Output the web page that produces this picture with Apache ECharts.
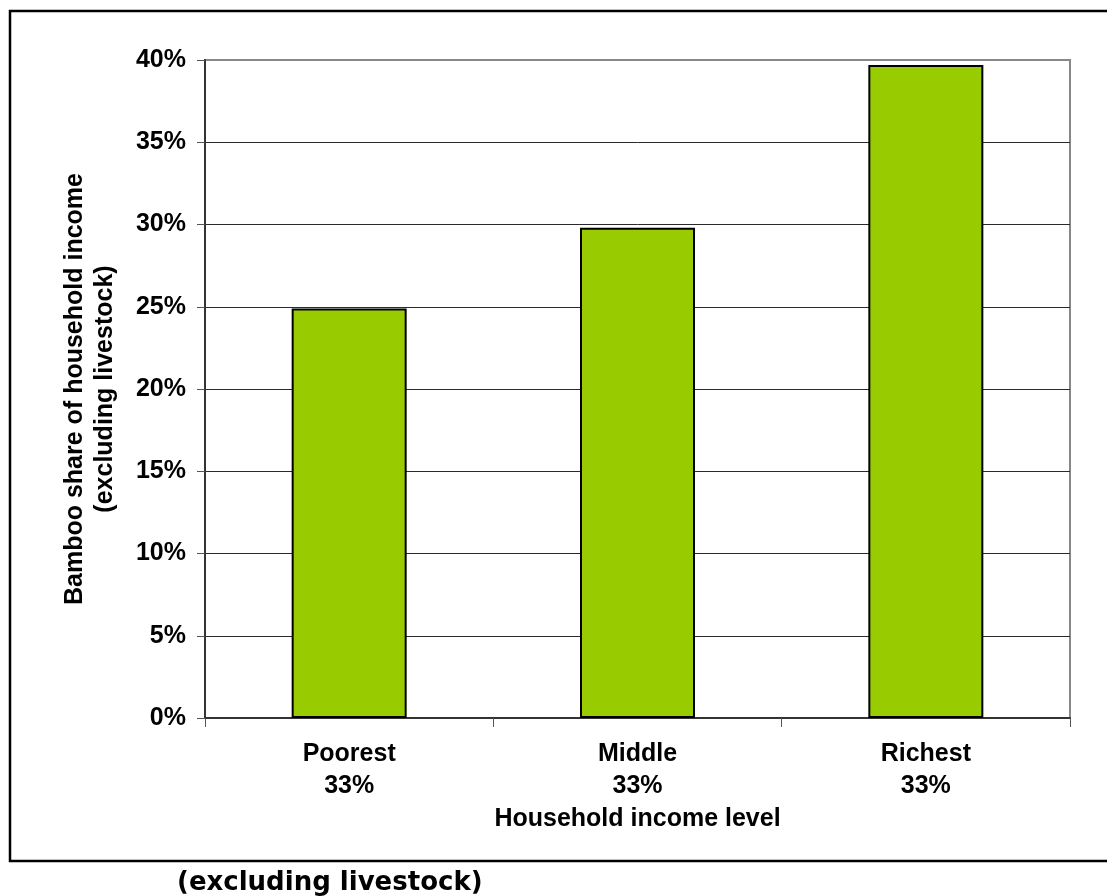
<!DOCTYPE html>
<html>
<head>
<meta charset="utf-8">
<script src="https://cdn.jsdelivr.net/npm/echarts@6/dist/echarts.min.js"></script>
<style>
  html, body { margin: 0; padding: 0; background: #fff; }
  #chart { width: 1107px; height: 896px; }
</style>
</head>
<body>
<div id="chart"></div>
<script>
// 类目与数值（百分比）
const categories = ['Poorest', 'Middle', 'Richest']
const groupShares = ['33%', '33%', '33%']
const bambooShare = [24.9, 29.8, 39.7]
const yTicks = [0, 5, 10, 15, 20, 25, 30, 35, 40]

const font = 'Liberation Sans, Arial, sans-serif'

const myChart = echarts.init(document.getElementById('chart'), null, { renderer: 'canvas' })

// 网格线颜色：最上面一条与边框同色（灰色）
const gridColors = yTicks.map((t, i) => (i === yTicks.length - 1 ? '#888' : '#2a2a2a'))

myChart.setOption({
  animation: false,
  backgroundColor: '#fff',
  grid: {
    left: 205,
    top: 60,
    right: 37,
    bottom: 178,
    show: true,
    borderColor: '#888',
    borderWidth: 2
  },
  xAxis: {
    type: 'category',
    data: categories.map((c, i) => c + '\n' + groupShares[i]),
    boundaryGap: true,
    name: 'Household income level',
    nameLocation: 'middle',
    nameGap: 87,
    nameTextStyle: { fontFamily: font, fontWeight: 'bold', fontSize: 25, color: '#000' },
    axisLine: { lineStyle: { color: '#333', width: 2 } },
    axisTick: { show: true, length: 9, alignWithLabel: false, lineStyle: { color: '#555', width: 1 } },
    axisLabel: { fontFamily: font, fontWeight: 'bold', fontSize: 25, color: '#000', lineHeight: 32, margin: 20 }
  },
  yAxis: {
    type: 'value',
    min: yTicks[0],
    max: yTicks[yTicks.length - 1],
    interval: 5,
    name: 'Bamboo share of household income\n(excluding livestock)',
    nameLocation: 'middle',
    nameGap: 85,
    nameTextStyle: { fontFamily: font, fontWeight: 'bold', fontSize: 25, color: '#000', lineHeight: 30 },
    axisLine: { show: true, lineStyle: { color: '#333', width: 2 } },
    axisTick: { show: true, length: 8, lineStyle: { color: '#555', width: 1 } },
    axisLabel: {
      fontFamily: font, fontWeight: 'bold', fontSize: 25, color: '#000', margin: 19,
      formatter: function(v) { return v + '%' }
    },
    splitLine: { show: true, lineStyle: { color: gridColors, width: 1 } }
  },
  series: [
    {
      type: 'bar',
      data: bambooShare,
      barWidth: 115,
      itemStyle: { color: '#99CC00', borderColor: '#000', borderWidth: 2 },
      silent: true
    }
  ],
  graphic: [
    {
      type: 'rect',
      shape: { x: 10, y: 11, width: 1110, height: 850 },
      style: { fill: 'none', stroke: '#000', lineWidth: 2.5 },
      silent: true
    },
    {
      type: 'text',
      left: 177,
      top: 870,
      style: {
        text: '(excluding livestock)',
        font: 'bold 26px "DejaVu Sans", Verdana, sans-serif',
        fill: '#000'
      },
      silent: true
    }
  ]
})
</script>
</body>
</html>
